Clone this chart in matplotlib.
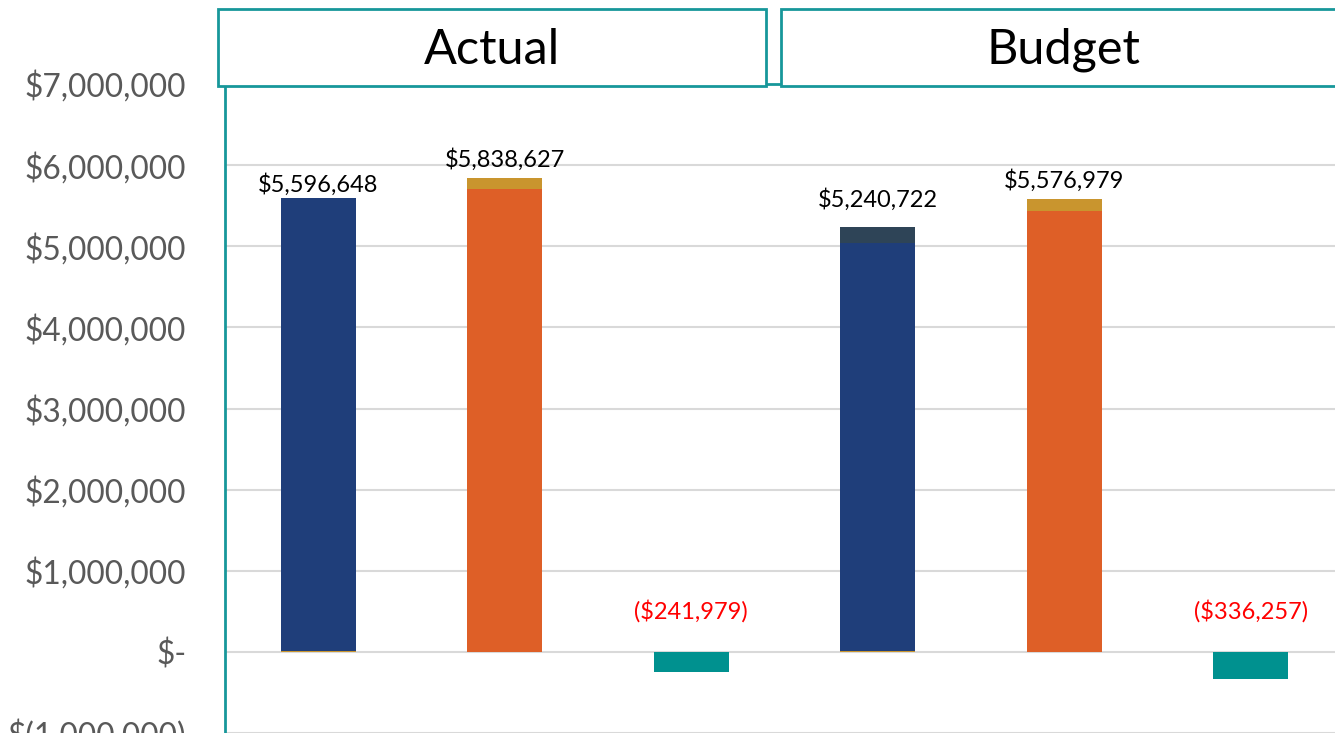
import matplotlib
matplotlib.use("Agg")
import matplotlib.pyplot as plt
from matplotlib.patches import Rectangle
from matplotlib.ticker import FuncFormatter

plt.rcParams['font.family'] = ['Lato', 'DejaVu Sans']

# data
groups = ["Actual", "Budget"]
slots = ["Revenue", "Expenses", "Net"]
base_gold = [15000, 0, 0, 15000, 0, 0]
main_vals = [5581648, 5703627, -241979, 5025722, 5439979, -336257]
top_dark = [0, 0, 0, 200000, 0, 0]
top_gold = [0, 135000, 0, 0, 137000, 0]
totals = [5596648, 5838627, -241979, 5240722, 5576979, -336257]
main_colors = ["#1F3E7A", "#DE5F27", "#00918F", "#1F3E7A", "#DE5F27", "#00918F"]
yticks = [-1000000, 0, 1000000, 2000000, 3000000, 4000000, 5000000, 6000000, 7000000]

# gap between bar top and its label, as Excel placed them
label_gap = [30000, 90000, 0, 190000, 95000, 0]

TEAL = "#17979A"
W, H = 1335, 733

fig = plt.figure(figsize=(W / 100, H / 100), dpi=100)
ax = fig.add_axes([225 / W, 0.0, 1119 / W, 1 - 84 / H])

x = list(range(len(main_vals)))
bw = 0.4
ax.bar(x, base_gold, width=bw, color="#C9952E", zorder=3)
ax.bar(x, main_vals, width=bw, bottom=base_gold, color=main_colors, zorder=3)
bottoms2 = [a + b for a, b in zip(base_gold, main_vals)]
ax.bar(x, top_dark, width=bw, bottom=bottoms2, color="#2E4457", zorder=3)
bottoms3 = [a + b for a, b in zip(bottoms2, top_dark)]
ax.bar(x, top_gold, width=bw, bottom=bottoms3, color="#C9952E", zorder=3)

for i, t in enumerate(totals):
    if t >= 0:
        ax.text(i, t + label_gap[i], "${:,}".format(t), ha="center", va="bottom",
                fontsize=17, color="black", zorder=4)
    else:
        ax.text(i, 500000, "(${:,})".format(-t), ha="center", va="center",
                fontsize=17, color="red", zorder=4)

ax.set_xlim(-0.5, 5.5)
ax.set_ylim(-1000000, 7000000)
ax.set_yticks(yticks)


def money(v, pos):
    if v == 0:
        return "$-"
    if v < 0:
        return "$({:,.0f})".format(-v)
    return "${:,.0f}".format(v)


ax.yaxis.set_major_formatter(FuncFormatter(money))
ax.tick_params(axis="y", length=0, pad=28, labelsize=22.8, labelcolor="#595959")
ax.tick_params(axis="x", length=0, labelbottom=False)
ax.grid(axis="y", color="#D9D9D9", linewidth=1.5, zorder=0)
ax.set_axisbelow(True)

for s in ["right", "bottom"]:
    ax.spines[s].set_visible(False)
for s in ["left", "top"]:
    ax.spines[s].set_color(TEAL)
    ax.spines[s].set_linewidth(2)

# header boxes
boxes = [(218, 766), (781, 1345)]
centers = [492, 1063]
for name, (x0, x1), cx in zip(groups, boxes, centers):
    r = Rectangle((x0 / W, 1 - 86 / H), (x1 - x0) / W, 77 / H, transform=fig.transFigure,
                  facecolor="white", edgecolor=TEAL, linewidth=2, zorder=5)
    fig.add_artist(r)
    fig.text(cx / W, 1 - 50 / H, name, ha="center", va="center", fontsize=35,
             color="black", zorder=6)

fig.savefig("out.png", dpi=100)
